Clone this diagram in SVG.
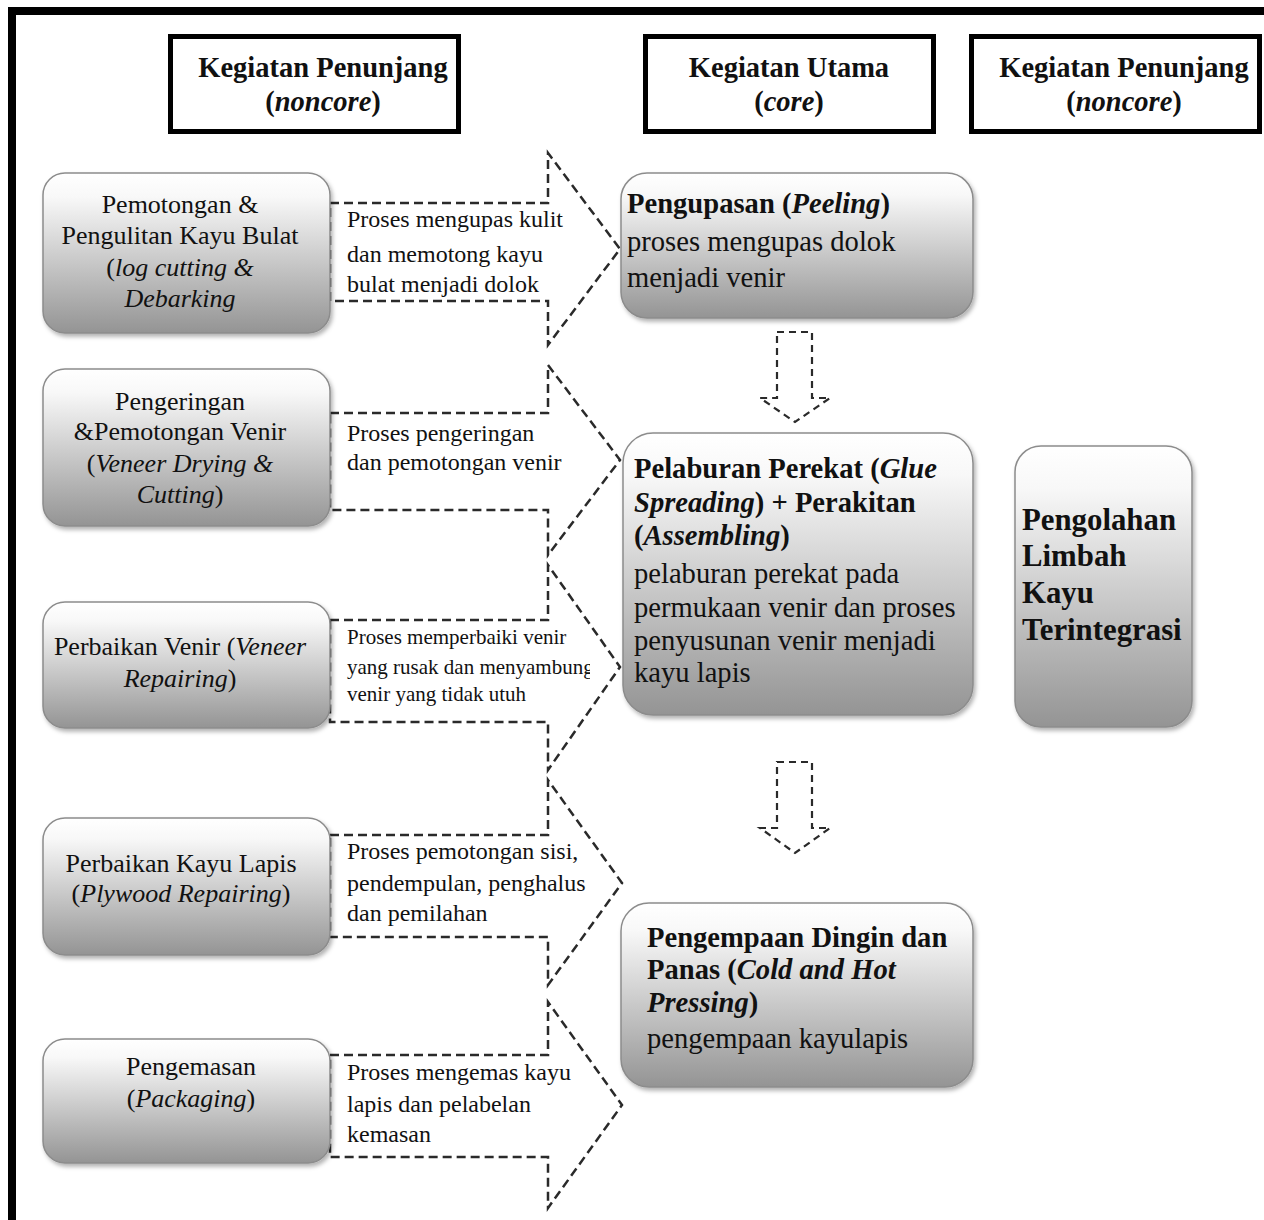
<svg xmlns="http://www.w3.org/2000/svg" width="1264" height="1220" viewBox="0 0 1264 1220">
<style>
text{font-family:"Liberation Serif","Times New Roman",serif;fill:#111}
.hdr{font-size:28.5px;font-weight:bold;text-anchor:middle}
.lt{font-size:26px;text-anchor:middle}
.ct{font-size:28.6px}
.b{font-weight:bold}
.i{font-style:italic}
.at{font-size:24px}
.as{font-size:21px}
.rt{font-size:30.8px;font-weight:bold}
.box{fill:url(#g);stroke:#8c8c8c;stroke-width:1.5;filter:url(#sh)}
.hbox{fill:#fff;stroke:#000;stroke-width:5}
.dash{fill:none;stroke:#2a2a2a;stroke-width:2.5;stroke-dasharray:9 5}
.dash2{fill:none;stroke:#2a2a2a;stroke-width:2.2;stroke-dasharray:7 5}
</style>
<defs>
<linearGradient id="g" x1="0" y1="0" x2="0" y2="1">
<stop offset="0" stop-color="#ffffff"/>
<stop offset="0.15" stop-color="#f8f8f8"/>
<stop offset="1" stop-color="#949494"/>
</linearGradient>
<filter id="sh" x="-10%" y="-10%" width="120%" height="130%">
<feDropShadow dx="2" dy="3" stdDeviation="2" flood-color="#000" flood-opacity="0.3"/>
</filter>
<clipPath id="clipA3"><rect x="330" y="600" width="260" height="130"/></clipPath>
</defs>
<rect width="1264" height="1220" fill="#fff"/>
<path d="M12,1220 V11 H1264" fill="none" stroke="#000" stroke-width="8"/>

<g id="header-noncore-left">
<rect class="hbox" x="170.5" y="36.5" width="288" height="95"/>
<text class="hdr" x="323" y="77">Kegiatan Penunjang</text>
<text class="hdr" x="323" y="111">(<tspan class="i">noncore</tspan>)</text>
</g>
<g id="header-core">
<rect class="hbox" x="645.5" y="36.5" width="288" height="95"/>
<text class="hdr" x="789" y="77">Kegiatan Utama</text>
<text class="hdr" x="789" y="111">(<tspan class="i">core</tspan>)</text>
</g>
<g id="header-noncore-right">
<rect class="hbox" x="971.5" y="36.5" width="288" height="95"/>
<text class="hdr" x="1124" y="77">Kegiatan Penunjang</text>
<text class="hdr" x="1124" y="111">(<tspan class="i">noncore</tspan>)</text>
</g>

<g id="connectors">
<path class="dash" d="M330,203 H548 V153 L620,249 L548,345 V301 H330 Z"/>
<path class="dash" d="M330,413 H548 V365 L620,460 L548,555 V510 H330 Z"/>
<path class="dash" d="M330,620 H548 V565 L620,667 L548,770 V722 H330 Z"/>
<path class="dash" d="M330,835 H548 V780 L622,883 L548,985 V937 H330 Z"/>
<path class="dash" d="M330,1055 H548 V1002 L622,1105 L548,1208 V1157 H330 Z"/>
<path class="dash2" d="M777,332 H812 V398 H830 L795,422 L760,398 H777 Z"/>
<path class="dash2" d="M777,762 H812 V828 H830 L795,853 L760,828 H777 Z"/>
</g>

<g id="arrow-text-1">
<text class="at" x="347" y="227">Proses mengupas kulit</text>
<text class="at" x="347" y="262">dan memotong kayu</text>
<text class="at" x="347" y="292">bulat menjadi dolok</text>
</g>
<g id="arrow-text-2">
<text class="at" x="347" y="441">Proses pengeringan</text>
<text class="at" x="347" y="470">dan pemotongan venir</text>
</g>
<g id="arrow-text-3" clip-path="url(#clipA3)">
<text class="as" x="347" y="644">Proses memperbaiki venir</text>
<text class="as" x="347" y="674">yang rusak dan menyambung</text>
<text class="as" x="347" y="701">venir yang tidak utuh</text>
</g>
<g id="arrow-text-4">
<text class="at" x="347" y="859">Proses pemotongan sisi,</text>
<text class="at" x="347" y="891">pendempulan, penghalus</text>
<text class="at" x="347" y="921">dan pemilahan</text>
</g>
<g id="arrow-text-5">
<text class="at" x="347" y="1080">Proses mengemas kayu</text>
<text class="at" x="347" y="1112">lapis dan pelabelan</text>
<text class="at" x="347" y="1142">kemasan</text>
</g>

<g id="node-log-cutting">
<rect class="box" x="43" y="173" width="287" height="160" rx="22"/>
<text class="lt" x="180" y="213">Pemotongan &amp;</text>
<text class="lt" x="180" y="244">Pengulitan Kayu Bulat</text>
<text class="lt" x="180" y="276">(<tspan class="i">log cutting &amp;</tspan></text>
<text class="lt i" x="180" y="307">Debarking</text>
</g>
<g id="node-veneer-drying">
<rect class="box" x="43" y="369" width="287" height="157" rx="22"/>
<text class="lt" x="180" y="410">Pengeringan</text>
<text class="lt" x="180" y="440">&amp;Pemotongan Venir</text>
<text class="lt" x="180" y="472">(<tspan class="i">Veneer Drying &amp;</tspan></text>
<text class="lt" x="180" y="503"><tspan class="i">Cutting</tspan>)</text>
</g>
<g id="node-veneer-repairing">
<rect class="box" x="43" y="602" width="287" height="126" rx="22"/>
<text class="lt" x="180" y="655">Perbaikan Venir (<tspan class="i">Veneer</tspan></text>
<text class="lt" x="180" y="687"><tspan class="i">Repairing</tspan>)</text>
</g>
<g id="node-plywood-repairing">
<rect class="box" x="43" y="818" width="287" height="137" rx="22"/>
<text class="lt" x="181" y="872">Perbaikan Kayu Lapis</text>
<text class="lt" x="181" y="902">(<tspan class="i">Plywood Repairing</tspan>)</text>
</g>
<g id="node-packaging">
<rect class="box" x="43" y="1039" width="287" height="124" rx="22"/>
<text class="lt" x="191" y="1075">Pengemasan</text>
<text class="lt" x="191" y="1107">(<tspan class="i">Packaging</tspan>)</text>
</g>

<g id="node-peeling">
<rect class="box" x="621" y="173" width="352" height="145" rx="26"/>
<text class="ct b" x="627" y="213">Pengupasan (<tspan class="i">Peeling</tspan>)</text>
<text class="ct" x="627" y="251">proses mengupas dolok</text>
<text class="ct" x="627" y="287">menjadi venir</text>
</g>
<g id="node-glue-spreading">
<rect class="box" x="623" y="433" width="350" height="282" rx="30"/>
<text class="ct b" x="634" y="478">Pelaburan Perekat (<tspan class="i">Glue</tspan></text>
<text class="ct b" x="634" y="512"><tspan class="i">Spreading</tspan>) + Perakitan</text>
<text class="ct b" x="634" y="545">(<tspan class="i">Assembling</tspan>)</text>
<text class="ct" x="634" y="583">pelaburan perekat pada</text>
<text class="ct" x="634" y="617">permukaan venir dan proses</text>
<text class="ct" x="634" y="650">penyusunan venir menjadi</text>
<text class="ct" x="634" y="682">kayu lapis</text>
</g>
<g id="node-pressing">
<rect class="box" x="621" y="903" width="352" height="184" rx="28"/>
<text class="ct b" x="647" y="947">Pengempaan Dingin dan</text>
<text class="ct b" x="647" y="979">Panas (<tspan class="i">Cold and Hot</tspan></text>
<text class="ct b" x="647" y="1012"><tspan class="i">Pressing</tspan>)</text>
<text class="ct" x="647" y="1048">pengempaan kayulapis</text>
</g>
<g id="node-waste">
<rect class="box" x="1015" y="446" width="177" height="281" rx="26"/>
<text class="rt" x="1022" y="530">Pengolahan</text>
<text class="rt" x="1022" y="566">Limbah</text>
<text class="rt" x="1022" y="603">Kayu</text>
<text class="rt" x="1022" y="640">Terintegrasi</text>
</g>
</svg>
